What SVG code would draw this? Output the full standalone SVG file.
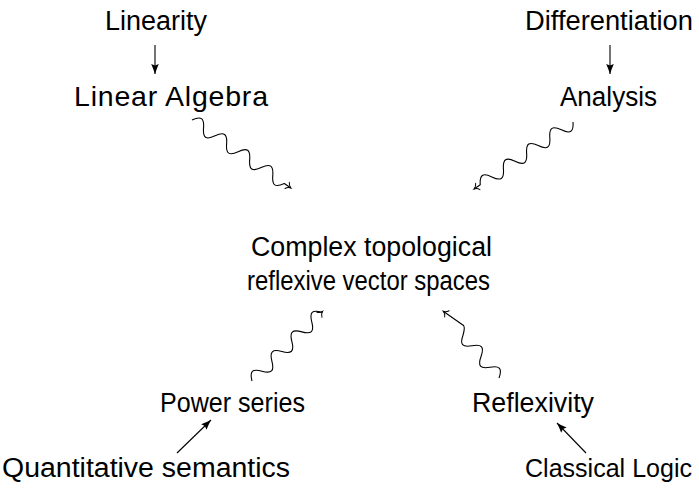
<svg xmlns="http://www.w3.org/2000/svg" width="699" height="488" viewBox="0 0 699 488">
<defs>
<style>
text{font-family:"Liberation Sans","DejaVu Sans",sans-serif;font-size:27px;fill:#000;text-anchor:middle}
.ln{fill:none;stroke:#000;stroke-width:1.1}
.sn{fill:none;stroke:#000;stroke-width:1.1;stroke-linejoin:round}
</style>
<marker id="fh" markerUnits="userSpaceOnUse" markerWidth="12" markerHeight="10" refX="0" refY="0" orient="auto" overflow="visible">
<path d="M0,0 Q-5,-1.6 -10,-3.8 L-8.5,0 L-10,3.8 Q-5,1.6 0,0Z" fill="#000"/>
</marker>
<marker id="oh" markerUnits="userSpaceOnUse" markerWidth="10" markerHeight="10" refX="0" refY="0" orient="auto" overflow="visible">
<path d="M-4.5,-3.8 C-3.5,-1.6 -1.5,-0.4 0,0 C-1.5,0.4 -3.5,1.6 -4.5,3.8" fill="none" stroke="#000" stroke-width="1" stroke-linecap="round"/>
</marker>
</defs>
<g id="n-linearity"><text x="156" y="30" textLength="102" lengthAdjust="spacingAndGlyphs">Linearity</text></g>
<g id="n-linalg"><text x="171" y="106" style="font-size:28.5px" textLength="194" lengthAdjust="spacing">Linear Algebra</text></g>
<g id="n-diff"><text x="609" y="30" textLength="168" lengthAdjust="spacingAndGlyphs">Differentiation</text></g>
<g id="n-analysis"><text x="608.5" y="106" textLength="97" lengthAdjust="spacingAndGlyphs">Analysis</text></g>
<g id="n-ctrvs"><text x="371.5" y="256" textLength="241" lengthAdjust="spacingAndGlyphs">Complex topological</text><text x="368.5" y="290" textLength="243" lengthAdjust="spacingAndGlyphs">reflexive vector spaces</text></g>
<g id="n-power"><text x="232.5" y="412" textLength="145" lengthAdjust="spacingAndGlyphs">Power series</text></g>
<g id="n-reflex"><text x="533" y="412" textLength="122" lengthAdjust="spacingAndGlyphs">Reflexivity</text></g>
<g id="n-quant"><text x="146" y="477" textLength="288" lengthAdjust="spacingAndGlyphs">Quantitative semantics</text></g>
<g id="n-classical"><text x="608.5" y="477" style="font-size:25.5px" textLength="167" lengthAdjust="spacingAndGlyphs">Classical Logic</text></g>
<g id="connectors">
<line class="ln" x1="155" y1="45" x2="155" y2="74" marker-end="url(#fh)"/>
<line class="ln" x1="610" y1="45" x2="610" y2="74" marker-end="url(#fh)"/>
<line class="ln" x1="177" y1="453" x2="211" y2="420" marker-end="url(#fh)"/>
<line class="ln" x1="586" y1="453" x2="557" y2="423" marker-end="url(#fh)"/>
<path class="sn" transform="translate(192,120) rotate(34.5)" marker-end="url(#oh)" d="M0,0 c5,-8.7 9,-8.7 14,0 s9,8.7 14,0 s9,-8.7 14,0 s9,8.7 14,0 s9,-8.7 14,0 s9,8.7 14,0 s9,-8.7 14,0 s9,8.7 14,0 l8,0"/>
<path class="sn" transform="translate(573,122) rotate(145.9)" marker-end="url(#oh)" d="M0,0 c5,-8.7 9,-8.7 14,0 s9,8.7 14,0 s9,-8.7 14,0 s9,8.7 14,0 s9,-8.7 14,0 s9,8.7 14,0 s9,-8.7 14,0 s9,8.7 14,0 l7.5,0"/>
<path class="sn" transform="translate(252,381) rotate(-44.6)" marker-end="url(#oh)" d="M0,0 c5,-8.7 9,-8.7 14,0 s9,8.7 14,0 s9,-8.7 14,0 s9,8.7 14,0 s9,-8.7 14,0 s9,8.7 14,0 s9,-8.7 14,0 l1,0"/>
<path class="sn" transform="translate(499,378) rotate(-129.9)" marker-end="url(#oh)" d="M0,0 c5,8.7 9,8.7 14,0 s9,-8.7 14,0 s9,8.7 14,0 s9,-8.7 14,0 q4.5,6.5 7,6.5 L87,0"/>
</g>
</svg>
